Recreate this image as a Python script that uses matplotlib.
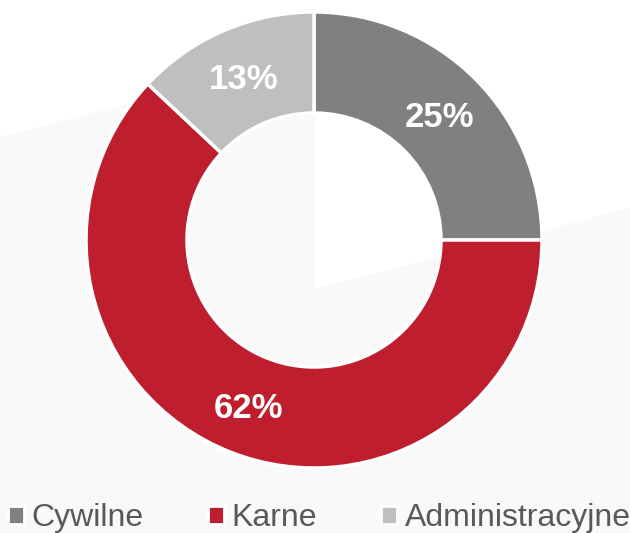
"""Donut chart: share of cases by type."""
import matplotlib.pyplot as plt
from matplotlib.patches import Patch, Polygon

labels = ["Cywilne", "Karne", "Administracyjne"]
shares = [25, 62, 13]
colors = ["#808080", "#BE1E2D", "#BFBFBF"]

W, H = 630, 533
plt.rcParams["font.family"] = ["Liberation Sans", "DejaVu Sans"]

fig = plt.figure(figsize=(W / 100, H / 100), dpi=100)
ax = fig.add_axes([0, 0, 1, 1])


def px(x, y):
    return (x, H - y)


# faint background shapes
bg = "#F9F9F9"
ax.add_patch(Polygon([px(0, 137), px(315, 55), px(315, 533), px(0, 533)],
                     closed=True, color=bg, lw=0, zorder=0))
ax.add_patch(Polygon([px(315, 289), px(630, 208), px(630, 533), px(315, 533)],
                     closed=True, color=bg, lw=0, zorder=0))

wedges, texts, autotexts = ax.pie(
    shares,
    colors=colors,
    startangle=90,
    counterclock=False,
    center=px(314, 240),
    radius=228,
    autopct="%.0f%%",
    pctdistance=0.78,
    wedgeprops=dict(width=101, edgecolor="white", linewidth=2.5),
    textprops=dict(color="white", fontsize=25, fontweight="bold"),
    frame=True,
)
for t in autotexts:
    x, y = t.get_position()
    t.set_position((x, y - 3))
ax.set_xlim(0, W)
ax.set_ylim(0, H)
ax.set_aspect("auto")
ax.set_axis_off()

handles = [Patch(facecolor=c, edgecolor="white", linewidth=2) for c in colors]
fig.legend(handles, labels, loc="center", bbox_to_anchor=(0.507, 0.028),
           ncol=3, frameon=False, fontsize=23, labelcolor="#595959",
           handlelength=0.5, handleheight=0.5, handletextpad=0.25,
           columnspacing=2.0, borderpad=0, borderaxespad=0)

fig.savefig("out.png", dpi=100)
